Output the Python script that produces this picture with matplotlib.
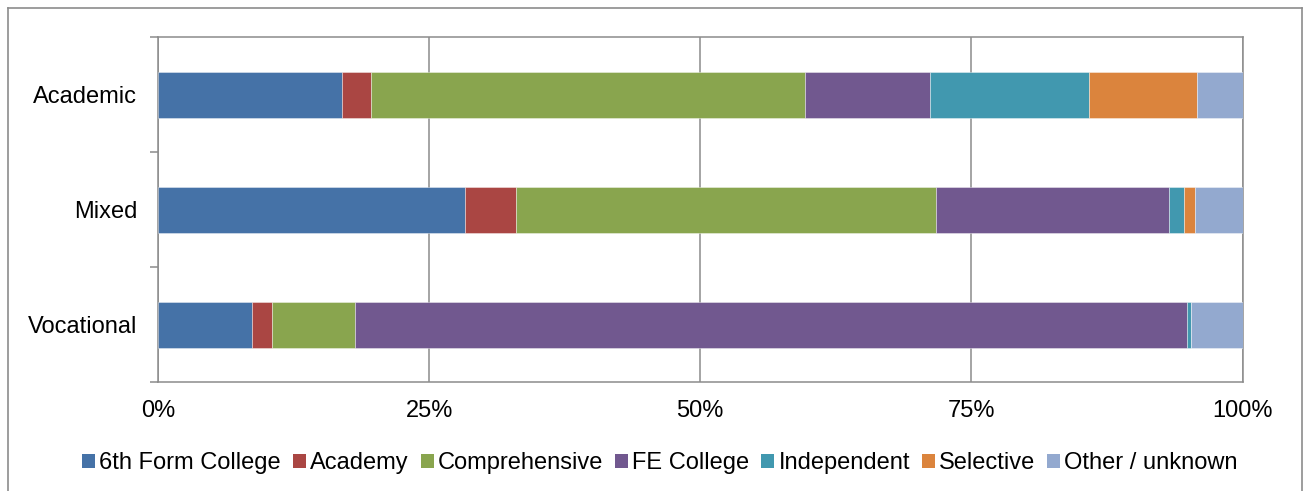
import matplotlib
matplotlib.use("Agg")
import matplotlib.pyplot as plt
from matplotlib.lines import Line2D
from matplotlib.patches import Patch
from matplotlib.ticker import FixedLocator, PercentFormatter

plt.rcParams['font.family'] = ['Liberation Sans', 'DejaVu Sans']

# Share of students by school type (percent of each group)
groups = ['Academic', 'Mixed', 'Vocational']
school_types = ['6th Form College', 'Academy', 'Comprehensive', 'FE College',
                'Independent', 'Selective', 'Other / unknown']
sixth_form = [17.0, 28.3, 8.7]
academy = [2.6, 4.7, 1.8]
comprehensive = [40.1, 38.7, 7.7]
fe_college = [11.5, 21.5, 76.7]
independent = [14.6, 1.4, 0.35]
selective = [10.0, 1.0, 0.0]
other = [4.2, 4.4, 4.75]
x_ticks = [0, 25, 50, 75, 100]

colors = ['#4572A7', '#AA4643', '#89A54E', '#71588F', '#4198AF', '#DB843D', '#93A9CF']
series = [sixth_form, academy, comprehensive, fe_college, independent, selective, other]

fig = plt.figure(figsize=(13.07, 4.91), dpi=100)
ax = fig.add_axes([158 / 1307, 1 - 382 / 491, 1084.5 / 1307, 345 / 491])

grid_col = '#8c8c8c'
ypos = list(range(len(groups)))
left = [0.0] * len(groups)
for vals, col in zip(series, colors):
    ax.barh(ypos, vals, left=left, height=0.4, color=col,
            edgecolor=(1, 1, 1, 0.45), linewidth=0.6, zorder=3)
    left = [a + b for a, b in zip(left, vals)]

ax.set_xlim(0, 100)
ax.set_ylim(2.5, -0.5)
ax.xaxis.set_major_locator(FixedLocator(x_ticks))
ax.xaxis.set_major_formatter(PercentFormatter(decimals=0))
ax.set_yticks(ypos)
ax.set_yticklabels(groups)
ax.yaxis.set_minor_locator(FixedLocator([-0.5, 0.5, 1.5, 2.5]))

ax.tick_params(axis='x', length=0, pad=13, labelsize=17)
ax.tick_params(axis='y', which='major', length=0, pad=15, labelsize=17)
ax.tick_params(axis='y', which='minor', length=6, width=1.1, color=grid_col)

ax.grid(axis='x', color=grid_col, linewidth=1.1, zorder=0)
ax.set_axisbelow(True)
for sp in ax.spines.values():
    sp.set_color(grid_col)
    sp.set_linewidth(1.1)

handles = [Patch(facecolor=c, label=l) for c, l in zip(colors, school_types)]
fig.legend(handles=handles, loc='center', bbox_to_anchor=(660 / 1307, 1 - 463 / 491),
           ncol=7, frameon=False, fontsize=17, handlelength=0.55, handleheight=0.55,
           handletextpad=0.18, columnspacing=0.5, borderpad=0, borderaxespad=0)

# outer chart border (bottom edge falls outside the image)
bc = '#8c8c8c'
fig.add_artist(Line2D([8 / 1307, 8 / 1307], [0, 1 - 8 / 491], color=bc, lw=1.2))
fig.add_artist(Line2D([8 / 1307, 1302 / 1307], [1 - 8 / 491, 1 - 8 / 491], color=bc, lw=1.2))
fig.add_artist(Line2D([1302 / 1307, 1302 / 1307], [0, 1 - 8 / 491], color=bc, lw=1.2))

fig.savefig('out.png', dpi=100)
